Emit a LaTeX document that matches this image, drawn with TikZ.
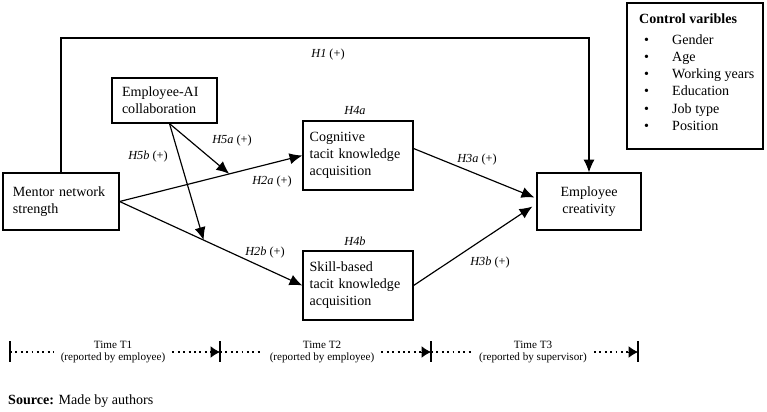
\documentclass[tikz,border=0pt]{standalone}
\usepackage{fontspec}
\setmainfont{Liberation Serif}
\usetikzlibrary{calc,arrows.meta,positioning}

\begin{document}
\begin{tikzpicture}[
    x=0.03cm,
    y=-0.03cm,
    >={Latex[length=11pt,width=9.5pt]},
    every node/.style={font=\fontsize{12}{14.5}\selectfont},
    varbox/.style={draw,line width=1pt,inner xsep=0.3cm,inner ysep=0pt,align=left},
    hyp/.style={font=\fontsize{10.5}{12}\selectfont},
    link/.style={->,line width=1pt},
    timelab/.style={font=\fontsize{9.5}{11}\selectfont,align=center,inner xsep=6pt},
    timedots/.style={line width=1.6pt,dash pattern=on 1.6pt off 3pt},
    timetip/.style={-{Latex[length=8pt,width=10pt]},line width=0.8pt},
    tick/.style={line width=1pt}
]

\useasboundingbox (0,0) rectangle (767,411);

% Variables
\node[varbox,text width=2.88cm,minimum height=1.71cm]
    (mentor) at (61,201.5) {Mentor network\\strength};
\node[varbox,text width=2.55cm,minimum height=1.35cm]
    (collab) at (164.5,100.5) {Employee-AI\\collaboration};
\node[varbox,inner xsep=0.2cm,text width=2.9cm,minimum height=2.07cm]
    (cog) at (358,155.5) {Cognitive\\tacit knowledge\\acquisition};
\node[varbox,inner xsep=0.2cm,text width=2.9cm,minimum height=2.07cm]
    (skill) at (358,285.5) {Skill-based\\tacit knowledge\\acquisition};
\node[varbox,align=center,text width=2.52cm,minimum height=1.71cm]
    (creat) at (589,201.5) {Employee\\creativity};

% Control variables
\node[draw,line width=1pt,minimum width=4.08cm,minimum height=4.38cm]
    (ctrl) at (695,76) {};
\node[anchor=base west,inner sep=0pt] (ctrltitle) at (639,23)
    {\textbf{Control varibles}};
\node[anchor=base west,inner sep=0pt] (ctrlA) at (644,44)
    {\makebox[0.84cm][l]{\textbullet}Gender};
\node[anchor=base west,inner sep=0pt] (ctrlB) at (644,61.3)
    {\makebox[0.84cm][l]{\textbullet}Age};
\node[anchor=base west,inner sep=0pt] (ctrlC) at (644,78.6)
    {\makebox[0.84cm][l]{\textbullet}Working years};
\node[anchor=base west,inner sep=0pt] (ctrlD) at (644,95.9)
    {\makebox[0.84cm][l]{\textbullet}Education};
\node[anchor=base west,inner sep=0pt] (ctrlE) at (644,113.2)
    {\makebox[0.84cm][l]{\textbullet}Job type};
\node[anchor=base west,inner sep=0pt] (ctrlF) at (644,130.5)
    {\makebox[0.84cm][l]{\textbullet}Position};

% Direct path H1
\coordinate (toprail) at (300,38);
\draw[link] (mentor.north) |- (toprail) -| (creat.north);
\node[hyp] (lH1) at (328,55) {\textit{H1} (+)};

% Mentor to tacit knowledge
\draw[link] (mentor.east) -- (cog.west);
\draw[link] (mentor.east) -- (skill.west);
\node[hyp] (lH2a) at (272,182) {\textit{H2a} (+)};
\node[hyp] (lH2b) at (265,253) {\textit{H2b} (+)};

% Moderation
\coordinate (collabfoot) at ($(collab.south)+(5,0)$);
\coordinate (onH2a) at ($(mentor.east)!0.6!(cog.west)$);
\coordinate (onH2b) at ($(mentor.east)!0.46!(skill.west)$);
\draw[link] (collabfoot) -- (onH2a);
\draw[link] (collabfoot) -- (onH2b);
\node[hyp] (lH5a) at (232,141) {\textit{H5a} (+)};
\node[hyp] (lH5b) at (148,157) {\textit{H5b} (+)};

% Tacit knowledge to creativity
\coordinate (cogout) at ($(cog.east)+(0,-7)$);
\coordinate (creatinA) at ($(creat.west)+(-2,-4)$);
\coordinate (creatinB) at ($(creat.west)+(-4,5)$);
\draw[link] (cogout) -- (creatinA);
\draw[link] (skill.east) -- (creatinB);
\node[hyp] (lH3a) at (477,160) {\textit{H3a} (+)};
\node[hyp] (lH3b) at (490,263) {\textit{H3b} (+)};

% Mediation labels
\node[hyp] (lH4a) at (355,111) {\textit{H4a}};
\node[hyp] (lH4b) at (355,241) {\textit{H4b}};

% Time line
\coordinate (t0) at (10,352);
\coordinate (t1) at (220,352);
\coordinate (t2) at (431,352);
\coordinate (t3) at (638,352);
\draw[tick] ($(t0)+(0,-11)$) -- ($(t0)+(0,10)$);
\draw[tick] ($(t1)+(0,-11)$) -- ($(t1)+(0,10)$);
\draw[tick] ($(t2)+(0,-11)$) -- ($(t2)+(0,10)$);
\draw[tick] ($(t3)+(0,-11)$) -- ($(t3)+(0,10)$);

\node[timelab] (time1) at (113,352) {Time T1\\(reported by employee)};
\node[timelab] (time2) at (322,352) {Time T2\\(reported by employee)};
\node[timelab] (time3) at (533,352) {Time T3\\(reported by supervisor)};

\draw[timedots] (t0) -- (time1.west);
\draw[timedots] (time1.east) -- ($(t1)+(-9,0)$);
\draw[timetip] ($(t1)+(-10,0)$) -- (t1);
\draw[timedots] (t1) -- (time2.west);
\draw[timedots] (time2.east) -- ($(t2)+(-9,0)$);
\draw[timetip] ($(t2)+(-10,0)$) -- (t2);
\draw[timedots] (t2) -- (time3.west);
\draw[timedots] (time3.east) -- ($(t3)+(-9,0)$);
\draw[timetip] ($(t3)+(-10,0)$) -- (t3);

% Source
\node[anchor=base west,inner sep=0pt] (source) at (8,404)
    {\textbf{Source:} Made by authors};

\end{tikzpicture}
\end{document}
